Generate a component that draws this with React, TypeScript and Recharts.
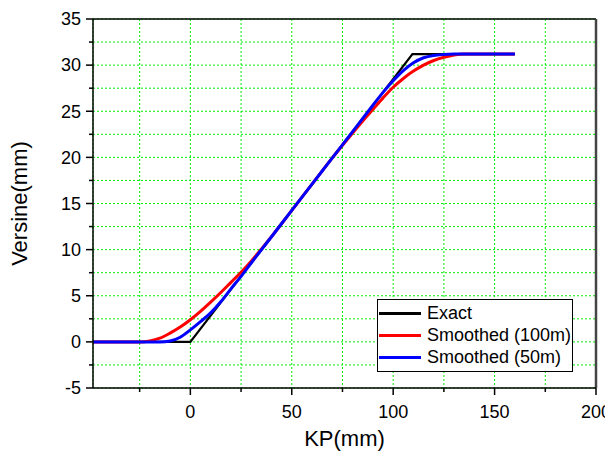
import React from 'react';
import { LineChart, Line, XAxis, YAxis, CartesianGrid, Legend, ReferenceLine } from 'recharts';

// KP (mm) / versine (mm)
const exactKp = [-48, 0, 109.5, 160];
const exactVersine = [0, 0, 31.2, 31.2];

const smooth100Kp = [-48, -25, -20, -15, -10, -5, 0, 5, 10, 15, 20, 25, 30, 35, 40, 50, 60, 70, 75, 80, 85, 90, 95, 100, 105, 110, 115, 120, 125, 130, 135, 160];
const smooth100Versine = [0, 0, 0.1, 0.4, 0.95, 1.6, 2.4, 3.3, 4.3, 5.35, 6.45, 7.55, 8.75, 10.05, 11.4, 14.25, 17.1, 19.95, 21.3, 22.65, 23.95, 25.2, 26.45, 27.6, 28.55, 29.35, 30.0, 30.5, 30.85, 31.1, 31.2, 31.2];

const smooth50Kp = [-48, -15, -10, -5, 0, 5, 10, 15, 20, 25, 30, 40, 50, 60, 70, 80, 90, 95, 100, 105, 110, 115, 120, 125, 130, 160];
const smooth50Versine = [0, 0, 0.1, 0.5, 1.3, 2.2, 3.15, 4.35, 5.75, 7.1, 8.55, 11.4, 14.25, 17.1, 19.95, 22.8, 25.65, 27.05, 28.3, 29.4, 30.25, 30.8, 31.05, 31.15, 31.2, 31.2];

const xTicks = [-25, 0, 25, 50, 75, 100, 125, 150, 175, 200];
const yTicks = [-5, -2.5, 0, 2.5, 5, 7.5, 10, 12.5, 15, 17.5, 20, 22.5, 25, 27.5, 30, 32.5, 35];

const toPoints = (kp: number[], v: number[]) => kp.map((k, i) => ({ kp: k, v: v[i] }));

const exactData = toPoints(exactKp, exactVersine);
const smooth100Data = toPoints(smooth100Kp, smooth100Versine);
const smooth50Data = toPoints(smooth50Kp, smooth50Versine);

const FONT = '"Liberation Sans", Arial, sans-serif';

const XTick = (props: any) => {
  const { x, y, payload } = props;
  const major = payload.value % 50 === 0;
  return (
    <g>
      <line x1={x} x2={x} y1={y} y2={y + (major ? 7 : 4)} stroke="#000" strokeWidth={1.5} />
      {major && (
        <text x={x} y={y + 30} textAnchor="middle" fontSize={18} fill="#000" fontFamily={FONT}>
          {payload.value}
        </text>
      )}
    </g>
  );
};

const YTick = (props: any) => {
  const { x, y, payload } = props;
  const major = payload.value % 5 === 0;
  return (
    <g>
      <line x1={x} x2={x - (major ? 7 : 4)} y1={y} y2={y} stroke="#000" strokeWidth={1.5} />
      {major && (
        <text x={x - 12} y={y} dy="0.35em" textAnchor="end" fontSize={18} fill="#000" fontFamily={FONT}>
          {payload.value}
        </text>
      )}
    </g>
  );
};

const LegendBox = (props: any) => {
  const { payload } = props;
  return (
    <div
      style={{
        border: '1px solid #000',
        background: '#fff',
        width: 194,
        padding: '2px 0 3px 0',
        fontFamily: FONT,
        fontSize: 18,
        lineHeight: '22px',
      }}
    >
      {(payload || []).map((entry: any) => (
        <div key={entry.value} style={{ display: 'flex', alignItems: 'center' }}>
          <div style={{ width: 42, height: 3, background: entry.color, marginLeft: 1, marginRight: 6 }} />
          <span>{entry.value}</span>
        </div>
      ))}
    </div>
  );
};

export default function App() {
  return (
    <div style={{ fontFamily: FONT }}>
      <LineChart width={605} height={453} margin={{ top: 11, right: 17, left: 25, bottom: 13 }}>
        <CartesianGrid stroke="#00ee00" strokeDasharray="2 2" strokeWidth={1} />
        <XAxis
          dataKey="kp"
          type="number"
          domain={[-48, 200]}
          ticks={xTicks}
          allowDataOverflow
          tickLine={false}
          tickSize={0}
          tickMargin={0}
          tick={<XTick />}
          axisLine={{ stroke: '#000', strokeWidth: 1.5 }}
          height={60}
          label={{ value: 'KP(mm)', position: 'insideBottom', offset: 2, fontSize: 22, fill: '#000', fontFamily: FONT }}
        />
        <YAxis
          type="number"
          domain={[-5, 35]}
          ticks={yTicks}
          allowDataOverflow
          tickLine={false}
          tickSize={0}
          tickMargin={0}
          tick={<YTick />}
          axisLine={{ stroke: '#000', strokeWidth: 1.5 }}
          width={60}
          label={{ value: 'Versine(mm)', angle: -90, position: 'insideLeft', offset: -14, fontSize: 22, fill: '#000', fontFamily: FONT, style: { textAnchor: 'middle' } }}
        />
        <ReferenceLine y={35} stroke="#000" strokeWidth={1.5} />
        <ReferenceLine x={200} stroke="#444" strokeWidth={2.5} />
        <Legend
          layout="horizontal"
          verticalAlign="middle"
          content={<LegendBox />}
          wrapperStyle={{ top: 291, left: 369, width: 'auto', height: 'auto' }}
        />
        <Line data={exactData} dataKey="v" name="Exact" stroke="#000" strokeWidth={2.2} dot={false} isAnimationActive={false} />
        <Line data={smooth100Data} dataKey="v" name="Smoothed (100m)" stroke="#ff0000" strokeWidth={3} dot={false} type="monotone" isAnimationActive={false} />
        <Line data={smooth50Data} dataKey="v" name="Smoothed (50m)" stroke="#0000ff" strokeWidth={3} dot={false} type="monotone" isAnimationActive={false} />
      </LineChart>
    </div>
  );
}
